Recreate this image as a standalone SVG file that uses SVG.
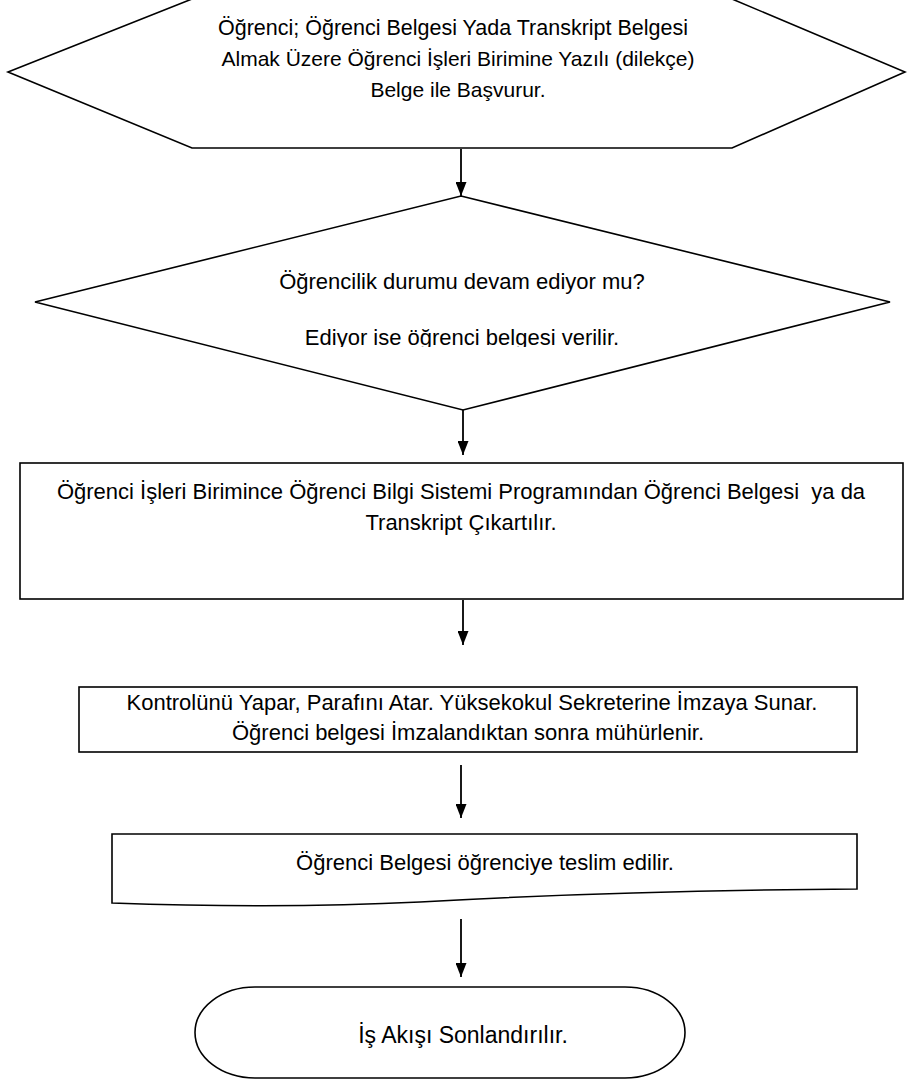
<svg xmlns="http://www.w3.org/2000/svg" width="907" height="1081" viewBox="0 0 907 1081">
<style>
.s{fill:#fff;stroke:#000;stroke-width:1.6}
.t{font-family:"Liberation Sans",Arial,sans-serif;font-size:22px;fill:#000;text-anchor:middle}
.h{font-size:21px}
.c{stroke:#000;stroke-width:1.8;fill:none}
</style>
<defs>
<marker id="ah" markerWidth="14" markerHeight="11" refX="14" refY="5.5" orient="auto" markerUnits="userSpaceOnUse" viewBox="0 0 14 11">
<path d="M0,0 L14,5.5 L0,11 Z" fill="#000"/>
</marker>
<clipPath id="dclip"><rect x="0" y="190" width="907" height="157"/></clipPath>
</defs>
<rect width="907" height="1081" fill="#fff"/>
<g id="n1">
<polygon class="s" points="8,72 192,-1 732,-1 905,72 732,148 192,148"/>
<text class="t" x="453" y="35" style="font-size:21.5px">Öğrenci; Öğrenci Belgesi Yada Transkript Belgesi</text>
<text class="t h" x="458" y="66">Almak Üzere Öğrenci İşleri Birimine Yazılı (dilekçe)</text>
<text class="t h" x="458" y="97">Belge ile Başvurur.</text>
</g>
<g id="n2">
<polygon class="s" points="461,196 890,302 463,410 35,302"/>
<text class="t" x="462" y="289">Öğrencilik durumu devam ediyor mu?</text>
<text class="t" x="462" y="345" clip-path="url(#dclip)">Ediyor ise öğrenci belgesi verilir.</text>
</g>
<g id="n3">
<rect class="s" x="20" y="463" width="883" height="136"/>
<text class="t" x="461" y="499" xml:space="preserve">Öğrenci İşleri Birimince Öğrenci Bilgi Sistemi Programından Öğrenci Belgesi  ya da</text>
<text class="t" x="461" y="530">Transkript Çıkartılır.</text>
</g>
<g id="n4">
<rect class="s" x="79" y="687" width="778" height="65"/>
<text class="t" x="472" y="710">Kontrolünü Yapar, Parafını Atar. Yüksekokul Sekreterine İmzaya Sunar.</text>
<text class="t" x="468" y="740">Öğrenci belgesi İmzalandıktan sonra mühürlenir.</text>
</g>
<g id="n5">
<path class="s" d="M112,834 L857,834 L857,889 C700,890 560,894 420,902 C300,908 200,906 112,903 Z"/>
<text class="t" x="485" y="870">Öğrenci Belgesi öğrenciye teslim edilir.</text>
</g>
<g id="n6">
<path class="s" d="M255,987 L625,987 A60,45.5 0 0 1 625,1078 L255,1078 A60,45.5 0 0 1 255,987 Z"/>
<text class="t" x="463" y="1043" style="font-size:23px">İş Akışı Sonlandırılır.</text>
</g>
<g id="connectors">
<line class="c" x1="461" y1="149" x2="461" y2="196" marker-end="url(#ah)"/>
<line class="c" x1="463" y1="410" x2="463" y2="455" marker-end="url(#ah)"/>
<line class="c" x1="463" y1="600" x2="463" y2="645" marker-end="url(#ah)"/>
<line class="c" x1="461" y1="765" x2="461" y2="818" marker-end="url(#ah)"/>
<line class="c" x1="461" y1="919" x2="461" y2="977" marker-end="url(#ah)"/>
</g>
</svg>
